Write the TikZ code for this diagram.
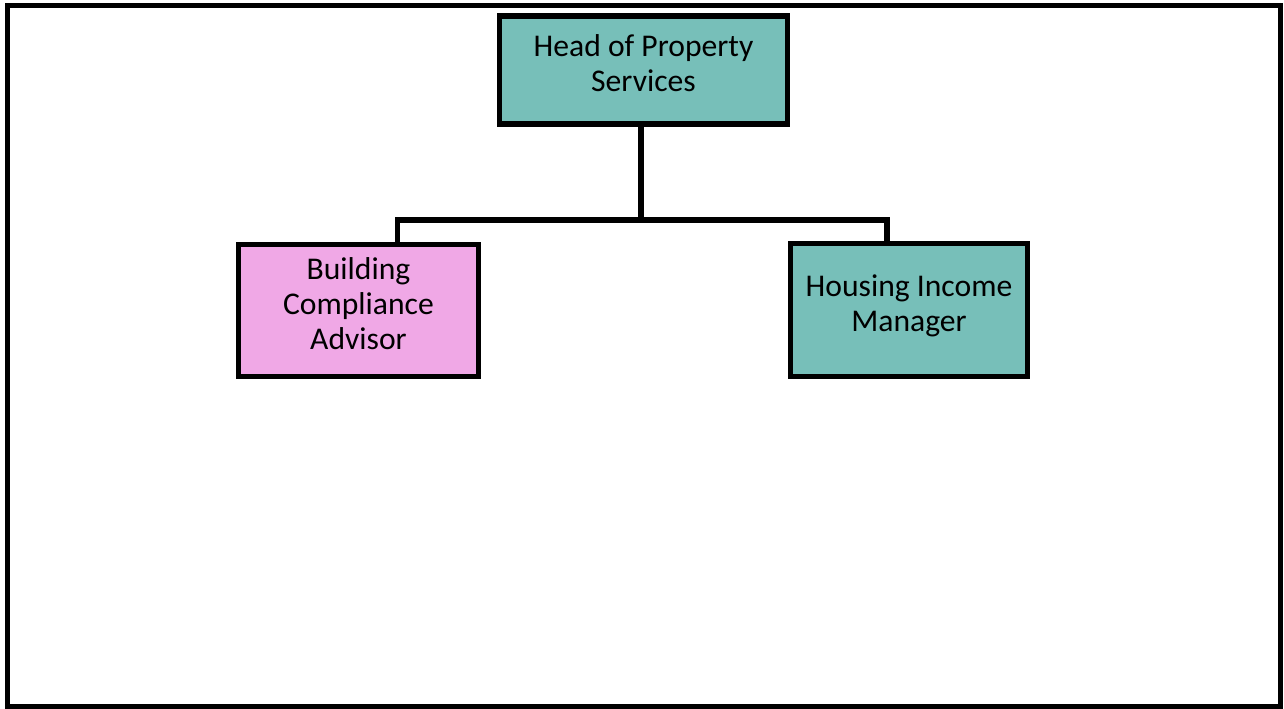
\documentclass[tikz,border=0pt]{standalone}
\usepackage{fontspec}
\setmainfont{Carlito}
\usepackage{tikz}
\definecolor{tealbox}{HTML}{77BFB9}
\definecolor{pinkbox}{HTML}{F0A8E6}
\newcommand{\boxtext}[1]{\raisebox{0pt}[\height][\dimexpr\depth+0.12cm\relax]{\begin{tabular}{@{}c@{}}#1\end{tabular}}}

\begin{document}
\begin{tikzpicture}[x=0.02cm,y=-0.02cm,line width=5.5*0.02cm,
	main node/.style={rectangle,draw,inner sep=0pt,font=\fontsize{18}{20}\selectfont},
	head node/.style={main node,fill=tealbox,minimum width=5.76cm,minimum height=2.16cm},
	staff node/.style={main node,minimum height=2.64cm}]
			
			\useasboundingbox (0,0) rectangle (1284,709);
			\draw (7.5,5.5) rectangle (1280.5,706.5);
			
			\node[head node] (head) at (643.5,70) {\boxtext{Head of Property\\Services}};
			\node[staff node,fill=pinkbox,minimum width=4.8cm] (bca) at (358.5,310.5) {\boxtext{Building\\Compliance\\Advisor}};
			\node[staff node,fill=tealbox,minimum width=4.74cm,minimum height=2.66cm] (him) at (909,310) {\boxtext{Housing Income\\Manager}};
			
			\coordinate (j) at (641,220);
			\draw (head.south -| j) -- (j);
			\draw[line cap=rect] (j) -| ([xshift=-1.67cm]bca.north east);
			\draw[line cap=rect] (j) -| ([xshift=-0.44cm]him.north);
			\end{tikzpicture}
\end{document}
